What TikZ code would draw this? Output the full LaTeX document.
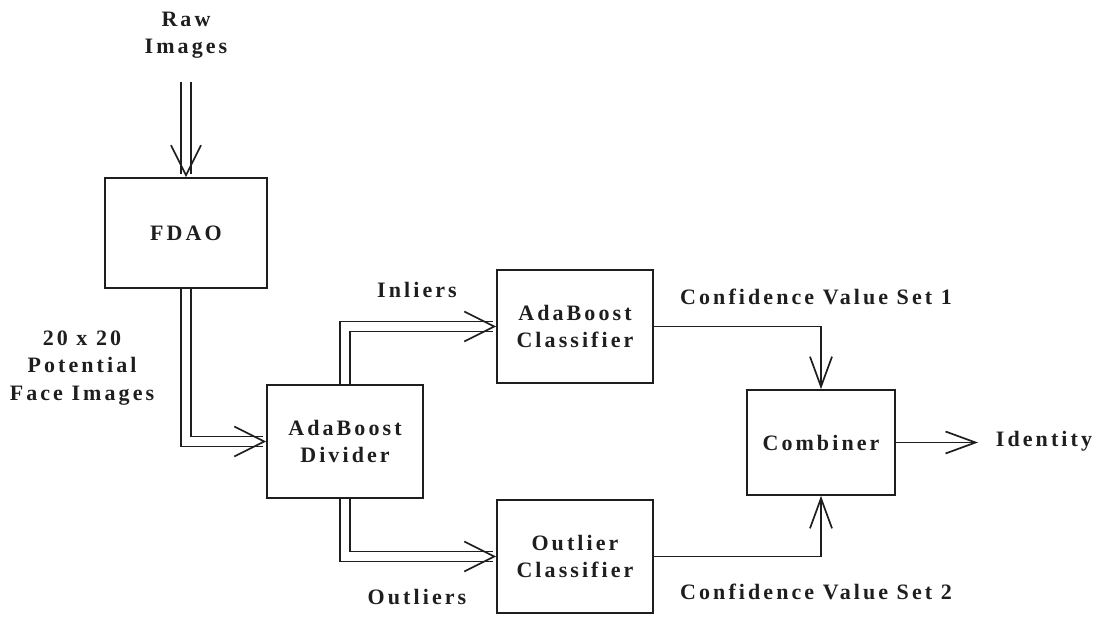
\documentclass[tikz,border=0pt]{standalone}
\usepackage{fontspec}
\setmainfont{Liberation Serif}[LetterSpace=14]
\usetikzlibrary{arrows.meta,calc}
\definecolor{ink}{HTML}{1E1E1E}
\begin{document}
\begin{tikzpicture}[x=1pt,y=-1pt,
  txt/.style={font=\fontsize{22}{27.5}\selectfont\bfseries, align=center,
    inner sep=0pt, text=ink},
  blk/.style={txt, draw=ink, line width=1.7pt},
  wire/.style={draw=ink, line width=1.7pt,
    -{Straight Barb[length=30pt,width=22pt,line width=1.7pt]}},
  pipe/.style={draw=ink, line width=1.7pt, double=white, double distance=8.3pt,
    -{Straight Barb[length=30pt,width=30pt,line width=1.7pt]}}]
  \useasboundingbox (0,0) rectangle (1103,617);

  % processing blocks
  \node[blk, minimum width=162pt, minimum height=110pt] (fdao) at (186,233) {FDAO};
  \node[blk, minimum width=156pt, minimum height=113pt] (div)  at (345,441.5) {AdaBoost\\Divider};
  \node[blk, minimum width=156pt, minimum height=113pt] (adac) at (575,326.5) {AdaBoost\\Classifier};
  \node[blk, minimum width=156pt, minimum height=113pt] (outc) at (575,556.5) {Outlier\\Classifier};
  \node[blk, minimum width=148pt, minimum height=105pt] (comb) at (821,442.5) {Combiner};

  % labels
  \node[txt] (raw)   at (186,35)  {Raw\\Images};
  \node[txt] (face)  at (82,368)  {20 x 20\\Potential\\Face Images};
  \node[txt] (inl)   at (417,290) {Inliers};
  \node[txt] (outl)  at (417,597) {Outliers};
  \node[txt] (cv1)   at (816,297) {Confidence Value Set 1};
  \node[txt] (cv2)   at (816,592) {Confidence Value Set 2};
  \node[txt] (ident) at (1044,441) {Identity};

  \coordinate (rawend) at (186,82);
  \coordinate (idend)  at (978,442.5);

  % image streams (double lines)
  \draw[pipe] (rawend) -- (fdao.north);
  \draw[pipe] (fdao.south) |- (div.west);
  \draw[pipe] (div.north) |- (adac.west);
  \draw[pipe] (div.south) |- (outc.west);

  % confidence values and result
  \draw[wire] (adac.east) -| (comb.north);
  \draw[wire] (outc.east) -| (comb.south);
  \draw[wire] (comb.east) -- (idend);
\end{tikzpicture}
\end{document}
